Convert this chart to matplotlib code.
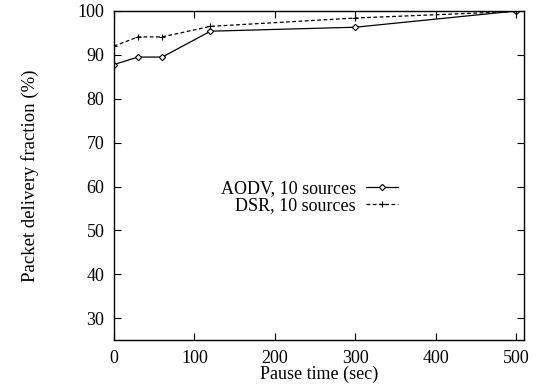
import matplotlib
matplotlib.use('Agg')
import matplotlib.pyplot as plt

# pause time (sec) vs packet delivery fraction (%)
pause_time = [0, 30, 60, 120, 300, 500]
aodv_pdf = [87.8, 89.5, 89.5, 95.4, 96.3, 100.0]
dsr_pdf = [92.0, 94.1, 94.1, 96.5, 98.4, 99.9]

x_ticks = [0, 100, 200, 300, 400, 500]
y_ticks = [30, 40, 50, 60, 70, 80, 90, 100]

plt.rcParams['font.family'] = ['Liberation Serif', 'DejaVu Serif']
plt.rcParams['font.size'] = 13

fig = plt.figure(figsize=(5.37, 3.90), dpi=100)
ax = fig.add_axes([0.2123, 0.128, 0.7635, 0.8438])

ax.plot(pause_time, aodv_pdf, color='black', lw=0.9, marker='D', ms=3.2,
        mfc='white', mec='black', mew=0.8, label='AODV, 10 sources')
ax.plot(pause_time, dsr_pdf, color='black', lw=0.9, ls=(0, (3, 2)), marker='+',
        ms=5, mew=0.8, label='DSR, 10 sources')

ax.set_xlim(0, 510)
ax.set_ylim(25, 100)
ax.set_xticks(x_ticks)
ax.set_yticks(y_ticks)
ax.tick_params(direction='in', length=5, width=0.8, top=True, right=True, pad=7)
for sp in ax.spines.values():
    sp.set_linewidth(1.0)

ax.set_xlabel('Pause time (sec)', labelpad=-1)
ax.set_ylabel('Packet delivery fraction (%)', labelpad=28, fontsize=13.5)

ax.legend(loc='center right', bbox_to_anchor=(0.693, 0.434), frameon=False,
          markerfirst=False, handlelength=1.8, handletextpad=0.55,
          labelspacing=0.02, borderaxespad=0, borderpad=0, fontsize=13)

fig.savefig('out.png', dpi=100)
